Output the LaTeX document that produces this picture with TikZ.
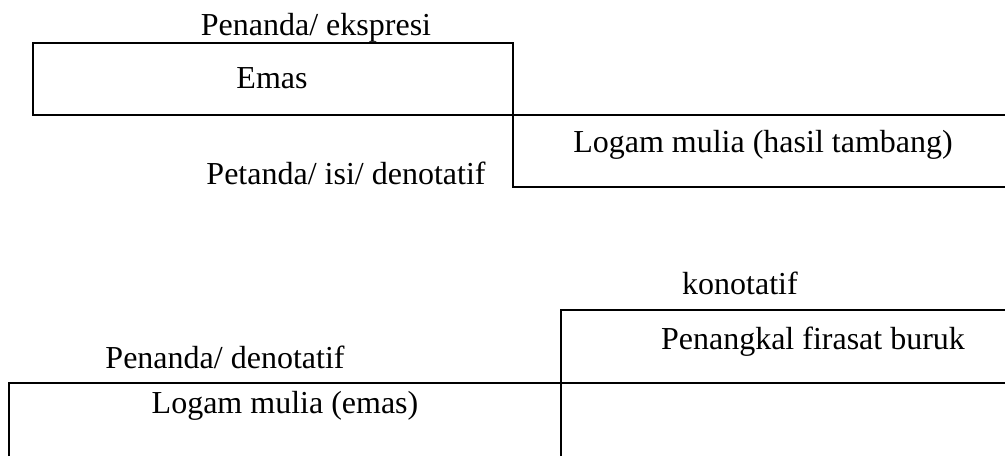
\documentclass[tikz,border=0pt]{standalone}
\usepackage{fontspec}
\setmainfont{Liberation Serif}
\begin{document}
\begin{tikzpicture}[x=1pt,y=-1pt,
  rule/.style={draw=black,line width=1.6pt},
  lbl/.style={font=\fontsize{32}{38}\selectfont,inner sep=0pt,anchor=base}]
\useasboundingbox (0,0) rectangle (1005,456);
% upper sign: expression over content
\draw[rule] (33,43) rectangle (513,115);
\draw[rule] (513,115) -- (1005,115);
\draw[rule] (513,115) -- (513,187) -- (1005,187);
\node[lbl] (expr)  at (316,35)  {Penanda/ ekspresi};
\node[lbl] (emas)  at (272,88)  {Emas};
\node[lbl] (isi)   at (346,184) {Petanda/ isi/ denotatif};
\node[lbl] (hasil) at (763,152) {Logam mulia (hasil tambang)};
% lower sign: denotative sign carrying the connotation
\draw[rule] (561,456) -- (561,310) -- (1005,310);
\draw[rule] (9,456) -- (9,383) -- (1005,383);
\node[lbl] (kon)   at (740,294) {konotatif};
\node[lbl] (pen)   at (813,349) {Penangkal firasat buruk};
\node[lbl] (deno)  at (225,368) {Penanda/ denotatif};
\node[lbl] (lme)   at (285,413) {Logam mulia (emas)};
\end{tikzpicture}
\end{document}
